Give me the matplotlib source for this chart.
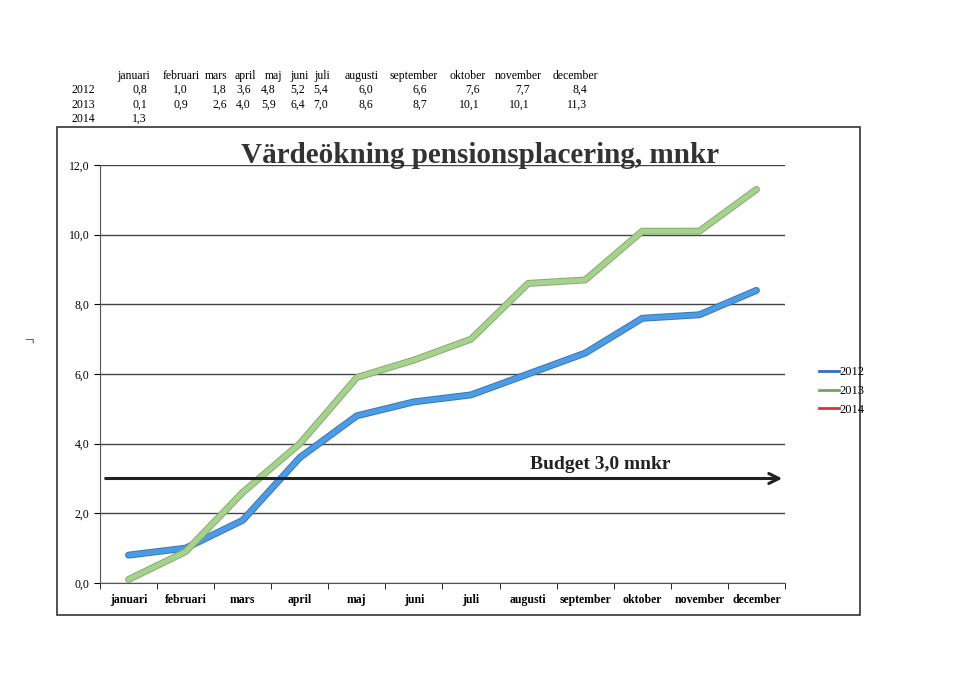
import matplotlib.pyplot as plt
import matplotlib.patheffects as pe
from matplotlib.patches import Rectangle
from matplotlib.lines import Line2D

plt.rcParams['font.family'] = ['Liberation Serif', 'DejaVu Serif']

months = ["januari", "februari", "mars", "april", "maj", "juni", "juli",
          "augusti", "september", "oktober", "november", "december"]
v2012 = [0.8, 1.0, 1.8, 3.6, 4.8, 5.2, 5.4, 6.0, 6.6, 7.6, 7.7, 8.4]
v2013 = [0.1, 0.9, 2.6, 4.0, 5.9, 6.4, 7.0, 8.6, 8.7, 10.1, 10.1, 11.3]
v2014 = [1.3]
budget = 3.0

W, H = 960, 679
fig = plt.figure(figsize=(9.6, 6.79), dpi=100)

def px(x, y):
    return x / W, 1 - y / H

def fmt(v):
    return f"{v:.1f}".replace(".", ",")

# table above the chart: header centres and right edges of the value columns
head_x = [134, 181, 216, 245, 274, 300, 322, 362, 414, 468, 518, 575]
val_r = [147, 188, 227, 251, 276, 305, 328, 373, 427, 480, 530, 587]
for m, x in zip(months, head_x):
    fig.text(*px(x, 76), m, ha="center", va="center", fontsize=8.5)
for row, (yr, vals) in enumerate([("2012", v2012), ("2013", v2013), ("2014", v2014)]):
    y = 90 + row * 14.5
    fig.text(*px(95, y), yr, ha="right", va="center", fontsize=8.5)
    for v, x in zip(vals, val_r):
        fig.text(*px(x, y), fmt(v), ha="right", va="center", fontsize=8.5)

# outer frame
fig.patches.append(Rectangle(px(57, 615), 803 / W, 488 / H, transform=fig.transFigure,
                             fill=False, edgecolor="#333333", linewidth=1.2))

ax = fig.add_axes([100 / W, 1 - 583 / H, 685 / W, 418 / H])
x = list(range(len(months)))

def draw(vals, col, edge):
    ax.plot(range(len(vals)), vals, color=col, linewidth=3.6,
            solid_capstyle="round",
            path_effects=[pe.Stroke(linewidth=5, foreground=edge), pe.Normal()])

draw(v2012, "#4c9be3", "#3677bb")
draw(v2013, "#a6d18f", "#84ad6c")
ax.plot(range(len(v2014)), v2014, color="#d9333f", linewidth=2)

ax.set_xlim(-0.5, 11.5)
ax.set_ylim(0, 12)
ax.set_yticks(range(0, 13, 2))
ax.set_yticklabels([fmt(v) for v in range(0, 13, 2)], fontsize=8.5)
ax.yaxis.grid(True, color="#444444", linewidth=1)
ax.set_axisbelow(True)
ax.set_xticks(x)
ax.set_xticklabels(months, fontsize=8.5, fontweight="bold")
ax.set_xticks([i - 0.5 for i in range(13)], minor=True)
ax.tick_params(axis="x", which="major", length=0, pad=8)
ax.tick_params(axis="x", which="minor", length=4, direction="out")
ax.tick_params(axis="y", length=4, direction="out")
for s in ["top", "right"]:
    ax.spines[s].set_visible(False)
ax.spines["left"].set_color("#555555")
ax.spines["bottom"].set_color("#555555")

ax.annotate("", xy=(11.5, budget), xytext=(-0.45, budget),
            arrowprops=dict(arrowstyle="->", color="#222222", lw=2.2, mutation_scale=18),
            annotation_clip=False)
ax.text(8.26, budget + 0.4, "Budget 3,0 mnkr", ha="center", va="center",
        fontsize=14, fontweight="bold", color="#222222")

fig.text(*px(480, 163), "Värdeökning pensionsplacering, mnkr", ha="center", va="baseline",
         fontsize=21, fontweight="bold", color="#333333")

handles = [Line2D([], [], color="#2f6fc0", lw=2),
           Line2D([], [], color="#6fa85a", lw=2),
           Line2D([], [], color="#d9333f", lw=2)]
fig.legend(handles, ["2012", "2013", "2014"], loc="center left",
           bbox_to_anchor=px(808, 391), frameon=False,
           fontsize=9, handlelength=1.6, handletextpad=0.0, labelspacing=0.55)

fig.text(*px(29, 342), "¬", ha="center", va="center", fontsize=12, color="#333333")

fig.savefig("out.png", dpi=100)
